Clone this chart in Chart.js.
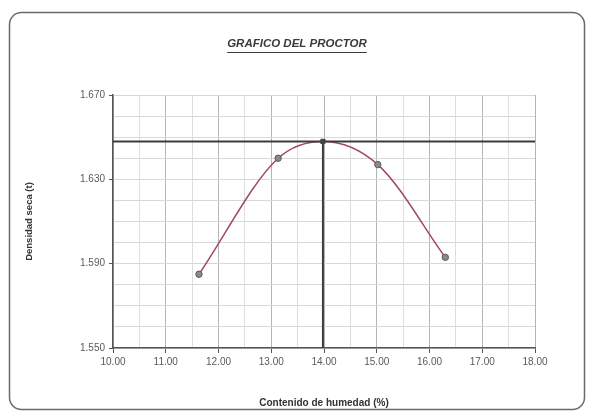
<!DOCTYPE html>
<html>
<head>
<meta charset="utf-8">
<script src="https://cdn.jsdelivr.net/npm/chart.js@4.4.1/dist/chart.umd.min.js"></script>
<style>
    html, body { margin: 0; padding: 0; background: #ffffff; }
    #wrap { width: 591px; height: 413px; }
</style>
</head>
<body>
<div id="wrap"><canvas id="proctorGraph" width="591" height="413"></canvas></div>
<script>
// datos
const humedad = [11.63, 13.13, 15.02, 16.30];
const densidad = [1.585, 1.640, 1.637, 1.593];
// punto maximo (OCH / MDS)
const humedadOptima = 13.98;
const densidadMaxima = 1.648;
// eje x y eje y
const xLimites = [10, 18];
const yLimites = [1.55, 1.67];
const yEtiquetas = [1.55, 1.59, 1.63, 1.67];

const chartTitle = 'GRAFICO DEL PROCTOR';
const xTitle = 'Contenido de humedad (%)';
const yTitle = 'Densidad seca (t)';

document.addEventListener('DOMContentLoaded', function () {

    const canvas = document.getElementById('proctorGraph');
    if (!canvas) return;
    const ctx = canvas.getContext('2d');

    // curva: puntos de ensayo + maximo, ordenados por humedad
    const curva = humedad.map((x, i) => ({ x: x, y: densidad[i] }));
    curva.push({ x: humedadOptima, y: densidadMaxima });
    curva.sort((a, b) => a.x - b.x);

    const puntos = humedad.map((x, i) => ({ x: x, y: densidad[i] }));
    const lineaH = [{ x: xLimites[0], y: densidadMaxima }, { x: xLimites[1], y: densidadMaxima }];
    const lineaV = [{ x: humedadOptima, y: densidadMaxima }, { x: humedadOptima, y: yLimites[0] }];

    const fuente = '"Liberation Sans", Arial, sans-serif';

    // marco redondeado y titulo subrayado
    const marco = {
        id: 'marco',
        beforeDraw(chart) {
            const c = chart.ctx;
            c.save();
            c.strokeStyle = '#6a6a6a';
            c.lineWidth = 1.5;
            c.beginPath();
            c.roundRect(9.5, 12.5, 575, 397, 12);
            c.stroke();
            c.restore();
        },
        afterDraw(chart) {
            const c = chart.ctx;
            c.save();
            c.font = 'italic bold 11.5px ' + fuente;
            c.fillStyle = '#3a3a3a';
            c.textAlign = 'center';
            c.textBaseline = 'middle';
            c.fillText(chartTitle, 297, 44);
            const w = c.measureText(chartTitle).width;
            c.strokeStyle = '#3a3a3a';
            c.lineWidth = 1;
            c.beginPath();
            c.moveTo(297 - w / 2, 52.5);
            c.lineTo(297 + w / 2, 52.5);
            c.stroke();
            c.restore();
        }
    };

    const data = {
        datasets: [
            {
                label: 'Curva',
                data: curva,
                borderColor: '#a04a5e',
                borderWidth: 1.5,
                pointRadius: 0,
                cubicInterpolationMode: 'monotone',
                showLine: true,
                order: 3
            },
            {
                label: 'Puntos',
                data: puntos,
                showLine: false,
                pointStyle: 'circle',
                pointRadius: 3.2,
                backgroundColor: '#8a8a8a',
                borderColor: '#5a5a5a',
                borderWidth: 1,
                order: 1
            },
            {
                label: 'Maximo',
                data: [{ x: humedadOptima, y: densidadMaxima }],
                showLine: false,
                pointStyle: 'rect',
                pointRadius: 3,
                backgroundColor: '#444444',
                borderColor: '#444444',
                order: 0
            },
            {
                label: 'Horizontal',
                data: lineaH,
                showLine: true,
                borderColor: '#3c3c3c',
                borderWidth: 2,
                pointRadius: 0,
                order: 2
            },
            {
                label: 'Vertical',
                data: lineaV,
                showLine: true,
                borderColor: '#3c3c3c',
                borderWidth: 2,
                pointRadius: 0,
                order: 2
            }
        ]
    };

    const config = {
        type: 'scatter',
        data: data,
        plugins: [marco],
        options: {
            responsive: false,
            animation: false,
            layout: {
                padding: { left: 20, right: 56, top: 95, bottom: 3 }
            },
            plugins: {
                legend: { display: false },
                tooltip: { enabled: false }
            },
            scales: {
                x: {
                    type: 'linear',
                    min: xLimites[0],
                    max: xLimites[1],
                    afterFit(scale) { scale.height = 62; },
                    border: { display: true, color: '#555555', width: 1.5 },
                    grid: {
                        color: (c) => Number.isInteger(c.tick.value) ? '#b4b4b4' : '#dedede',
                        tickColor: (c) => Number.isInteger(c.tick.value) ? '#555555' : 'rgba(0,0,0,0)',
                        tickLength: 5
                    },
                    ticks: {
                        stepSize: 0.5,
                        autoSkip: false,
                        maxRotation: 0,
                        padding: 3,
                        color: '#5a5a5a',
                        font: { family: fuente, size: 10 },
                        callback: (v) => Number.isInteger(v) ? v.toFixed(2) : ''
                    },
                    title: {
                        display: true,
                        text: xTitle,
                        color: '#333333',
                        padding: { top: 0, bottom: 1 },
                        font: { family: fuente, size: 10, weight: 'bold' }
                    }
                },
                y: {
                    type: 'linear',
                    min: yLimites[0],
                    max: yLimites[1],
                    afterFit(scale) { scale.width = 93; },
                    border: { display: true, color: '#555555', width: 1.5 },
                    grid: {
                        color: '#d8d8d8',
                        tickColor: (c) => yEtiquetas.some(e => Math.abs(e - c.tick.value) < 1e-6) ? '#555555' : 'rgba(0,0,0,0)',
                        tickLength: 4
                    },
                    ticks: {
                        stepSize: 0.01,
                        autoSkip: false,
                        padding: 4,
                        color: '#5a5a5a',
                        font: { family: fuente, size: 10 },
                        callback: (v) => yEtiquetas.some(e => Math.abs(e - v) < 1e-6) ? v.toFixed(3) : ''
                    },
                    title: {
                        display: true,
                        text: yTitle,
                        color: '#333333',
                        padding: { top: 4, bottom: 0 },
                        font: { family: fuente, size: 9.5, weight: 'bold' }
                    }
                }
            }
        }
    };
    new Chart(ctx, config);
});
</script>
</body>
</html>
